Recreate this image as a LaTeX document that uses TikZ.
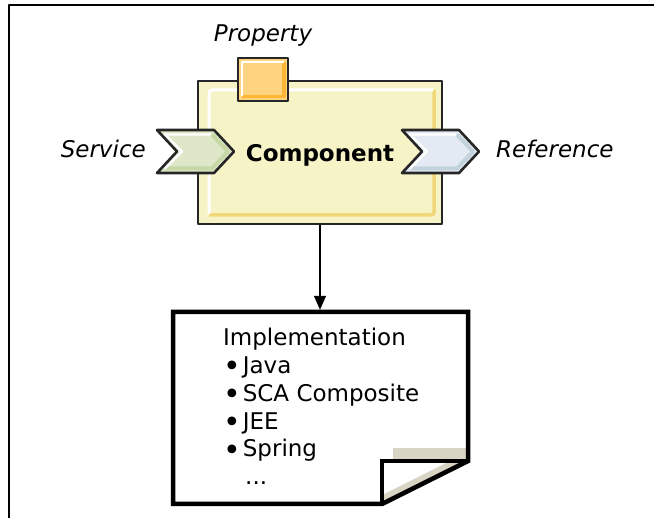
\documentclass[tikz,border=0pt]{standalone}
\usepackage{fontspec}
\setmainfont{DejaVu Sans}
\usetikzlibrary{arrows.meta}
\definecolor{compfill}{HTML}{F6F3C7}
\definecolor{compgold}{HTML}{F0D878}
\definecolor{propfill}{HTML}{FFD480}
\definecolor{propdark}{HTML}{FFB634}
\definecolor{svcfill}{HTML}{DEE8C9}
\definecolor{svcdark}{HTML}{C5D8A6}
\definecolor{reffill}{HTML}{E3EAF3}
\definecolor{refdark}{HTML}{C2D3DB}
\definecolor{foldgray}{HTML}{D9D5C5}
\newcommand{\itembul}{\raisebox{-3.3pt}[0pt][0pt]{\scalebox{1.3}{•}}\hspace{2pt}}
\begin{document}
\begin{tikzpicture}[x=1pt, y=-1pt, line join=round, >={Triangle[length=14pt,width=12pt]},
		font=\fontsize{23}{27.8}\selectfont,
		lbl/.style={font=\fontsize{23}{27.8}\selectfont\itshape, inner sep=0pt},
		edge/.style={draw=black!85, line width=2.6pt}]
			\useasboundingbox (0,0) rectangle (654,518);
			\draw[line width=1.5pt] (9,518) -- (9,5) -- (654,5);
			% component box
			\node[edge, fill=compfill, minimum width=244pt, minimum height=143pt, inner sep=0pt,
				text depth=0pt, font=\fontsize{23}{27.8}\selectfont\bfseries] (comp) at (320,152.5) {Component};
			\draw[compgold, line width=3.5pt, rounded corners=3pt] (434,90) -- (434,215) -- (209,215);
			\draw[white, line width=3pt, rounded corners=3pt] (209,214) -- (209,90) -- (433,90);
			% property
			\node[edge, fill=propfill, minimum width=50pt, minimum height=43pt, inner sep=0pt] (prop) at (263,79.5) {};
			\draw[propdark, line width=3.5pt] (284,62.5) -- (284,96.5) -- (242,96.5);
			\draw[white, line width=2pt] (242,96) -- (242,62) -- (283.5,62);
			\node[lbl, anchor=base] (proplbl) at (prop.north |- 0,41.7) {Property};
			% service and reference
			\coordinate (svc) at (157,151.5);
			\coordinate (ref) at (402,151.5);
			\foreach \pt/\fc/\dc in {svc/svcfill/svcdark, ref/reffill/refdark} {
				\begin{scope}[shift={(\pt)}]
					\fill[\fc] (0,-21.5) -- (57,-21.5) -- (77,0) -- (57,21.5) -- (0,21.5) -- (20,0) -- cycle;
					\draw[\dc, line width=4pt] (55,-17) -- (71,0) -- (55,17) -- (9,17);
					\draw[white, line width=2.2pt] (8,17) -- (25,0) -- (8,-17) -- (54,-17);
					\draw[edge] (0,-21.5) -- (57,-21.5) -- (77,0) -- (57,21.5) -- (0,21.5) -- (20,0) -- cycle;
				\end{scope}
			}
			\node[lbl, anchor=base east] (svclbl) at (146,157.7) {Service};
			\node[lbl, anchor=base west] (reflbl) at (496,157.7) {Reference};
			% implementation document
			\node[minimum width=295pt, minimum height=192pt, inner sep=0pt] (doc) at (320.5,408) {};
			\fill[foldgray] (393,448) rectangle (468,461);
			\fill[foldgray] (382,504) -- (468,461) -- (450,461) -- (382,495) -- cycle;
			\draw[line width=4.5pt, line join=miter] (173,312) -- (468,312) -- (468,461) -- (382,504) -- (173,504) -- cycle;
			\draw[line width=4.5pt, line join=miter] (382,504) -- (382,461) -- (468,461);
			\node[anchor=north west, align=left, inner sep=0pt] (impl) at (223,328)
				{Implementation\\ \itembul Java\\ \itembul SCA Composite\\ \itembul JEE\\ \itembul Spring\\ \hspace{22pt}...};
			\draw[->, line width=1.3pt, shorten >=2pt] (comp.south) -- (comp.south |- doc.north);
		\end{tikzpicture}
\end{document}
